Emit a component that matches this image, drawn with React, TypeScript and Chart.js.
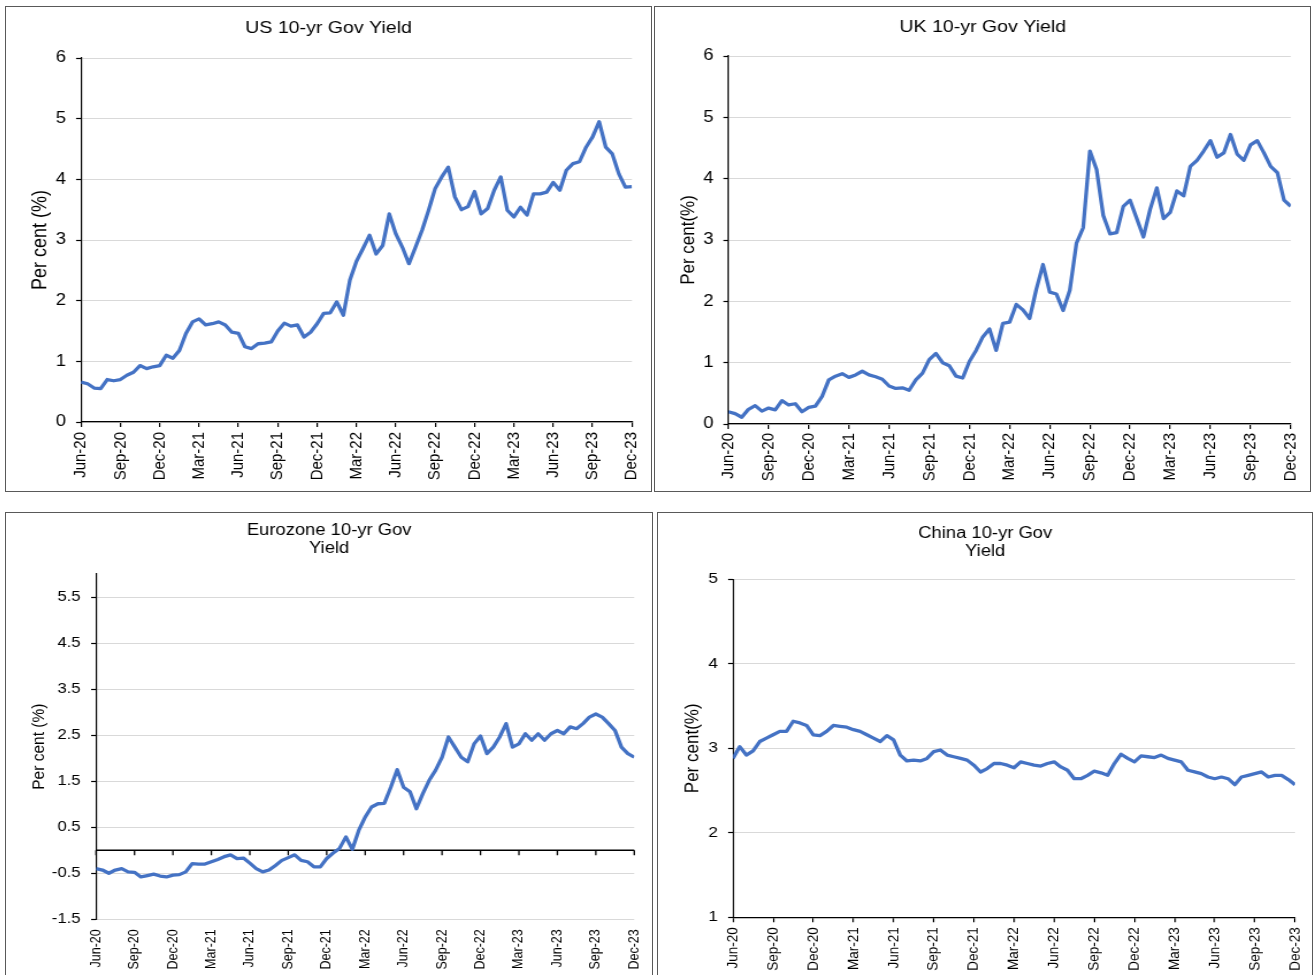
import React, { useEffect, useRef } from 'react';
import { Chart, registerables } from 'chart.js';

Chart.register(...registerables);

// ---------- data ----------
const X_TICK_LABELS = ['Jun-20', 'Sep-20', 'Dec-20', 'Mar-21', 'Jun-21', 'Sep-21', 'Dec-21', 'Mar-22', 'Jun-22', 'Sep-22', 'Dec-22', 'Mar-23', 'Jun-23', 'Sep-23', 'Dec-23'];
const X_TICK_MONTHS = [0, 3, 6, 9, 12, 15, 18, 21, 24, 27, 30, 33, 36, 39, 42];
const MONTHS_PER_POINT = 0.5; // one reading every half month, starting Jun-20

const US_YIELD = [
  0.66, 0.63, 0.56, 0.55, 0.70, 0.68, 0.70, 0.77, 0.82, 0.93, 0.88, 0.91,
  0.93, 1.10, 1.05, 1.18, 1.46, 1.65, 1.70, 1.60, 1.62, 1.65, 1.60, 1.48,
  1.46, 1.24, 1.21, 1.29, 1.30, 1.32, 1.50, 1.63, 1.58, 1.60, 1.40, 1.48,
  1.62, 1.79, 1.80, 1.98, 1.76, 2.34, 2.65, 2.86, 3.08, 2.77, 2.91, 3.43,
  3.10, 2.88, 2.61, 2.88, 3.16, 3.49, 3.85, 4.04, 4.20, 3.71, 3.50, 3.55,
  3.80, 3.43, 3.52, 3.82, 4.04, 3.49, 3.38, 3.54, 3.41, 3.76, 3.76, 3.79,
  3.95, 3.82, 4.15, 4.26, 4.29, 4.53, 4.70, 4.95, 4.53, 4.42, 4.09, 3.87,
  3.88,
];

const UK_YIELD = [
  0.20, 0.17, 0.11, 0.24, 0.30, 0.21, 0.26, 0.23, 0.38, 0.31, 0.33, 0.20,
  0.27, 0.29, 0.45, 0.72, 0.78, 0.82, 0.76, 0.80, 0.86, 0.80, 0.77, 0.73,
  0.62, 0.58, 0.59, 0.55, 0.72, 0.83, 1.05, 1.15, 1.00, 0.95, 0.78, 0.75,
  1.02, 1.20, 1.42, 1.55, 1.20, 1.64, 1.66, 1.95, 1.86, 1.72, 2.20, 2.60,
  2.15, 2.12, 1.85, 2.18, 2.95, 3.20, 4.45, 4.15, 3.40, 3.10, 3.12, 3.55,
  3.65, 3.35, 3.05, 3.50, 3.85, 3.35, 3.45, 3.80, 3.72, 4.20, 4.30, 4.45,
  4.62, 4.35, 4.42, 4.72, 4.40, 4.30, 4.55, 4.62, 4.42, 4.20, 4.10, 3.65,
  3.55,
];

const EZ_YIELD = [
  -0.40, -0.43, -0.50, -0.43, -0.40, -0.47, -0.48, -0.58, -0.55, -0.52, -0.56, -0.58,
  -0.54, -0.53, -0.47, -0.29, -0.30, -0.30, -0.25, -0.20, -0.14, -0.10, -0.18, -0.17,
  -0.28, -0.40, -0.47, -0.43, -0.33, -0.22, -0.16, -0.10, -0.22, -0.25, -0.36, -0.36,
  -0.18, -0.06, 0.04, 0.29, 0.02, 0.43, 0.72, 0.94, 1.01, 1.02, 1.37, 1.75,
  1.37, 1.27, 0.90, 1.23, 1.52, 1.74, 2.02, 2.46, 2.24, 2.02, 1.92, 2.31,
  2.48, 2.10, 2.24, 2.46, 2.75, 2.24, 2.31, 2.53, 2.39, 2.53, 2.39, 2.53,
  2.60, 2.53, 2.68, 2.64, 2.75, 2.89, 2.96, 2.89, 2.75, 2.60, 2.24, 2.10,
  2.02,
];

const CN_YIELD = [
  2.88, 3.02, 2.92, 2.97, 3.08, 3.12, 3.16, 3.20, 3.20, 3.32, 3.30, 3.27,
  3.16, 3.15, 3.20, 3.27, 3.26, 3.25, 3.22, 3.20, 3.16, 3.12, 3.08, 3.15,
  3.10, 2.92, 2.85, 2.86, 2.85, 2.88, 2.96, 2.98, 2.92, 2.90, 2.88, 2.86,
  2.80, 2.72, 2.76, 2.82, 2.82, 2.80, 2.77, 2.84, 2.82, 2.80, 2.79, 2.82,
  2.84, 2.78, 2.74, 2.64, 2.64, 2.68, 2.73, 2.71, 2.68, 2.82, 2.93, 2.88,
  2.84, 2.91, 2.90, 2.89, 2.92, 2.88, 2.86, 2.84, 2.74, 2.72, 2.70, 2.66,
  2.64, 2.66, 2.64, 2.57, 2.66, 2.68, 2.70, 2.72, 2.66, 2.68, 2.68, 2.63,
  2.57,
];

const US_Y_TICKS = [0, 1, 2, 3, 4, 5, 6];
const UK_Y_TICKS = [0, 1, 2, 3, 4, 5, 6];
const EZ_Y_TICKS = [-1.5, -0.5, 0.5, 1.5, 2.5, 3.5, 4.5, 5.5];
const CN_Y_TICKS = [1, 2, 3, 4, 5];

// ---------- styling / layout ----------
const FONT = "'Liberation Sans', Arial, Helvetica, sans-serif";
const LINE_COLOR = '#4472C4';
const STRETCH = 1.15;

const zeroLinePlugin = {
  id: 'zeroLine',
  beforeDatasetsDraw(chart: any) {
    const { ctx, chartArea, scales } = chart;
    const x = scales.x;
    const y = scales.y;
    const py = y.getPixelForValue(0);
    ctx.save();
    ctx.strokeStyle = '#000';
    ctx.lineWidth = 1.3;
    ctx.beginPath();
    ctx.moveTo(chartArea.left, py);
    ctx.lineTo(chartArea.right, py);
    for (const t of x.ticks) {
      const px = x.getPixelForValue(t.value);
      ctx.moveTo(px, py);
      ctx.lineTo(px, py + 5);
    }
    ctx.stroke();
    ctx.restore();
  },
};

const PANELS = [
  {
    key: 'us',
    box: { left: 5, top: 6, width: 647, height: 486, openBottom: false },
    canvasW: 561, canvasH: 484,
    values: US_YIELD,
    title: 'US 10-yr Gov Yield', titleSize: 17, titleLH: 1.2, titlePad: { top: 11.3, bottom: 19.3 },
    yTitle: 'Per cent (%)', yTitleSize: 18, yTitlePad: 19.6,
    yMin: 0, yMax: 6, yTicks: US_Y_TICKS, yTickSize: 16, yTickPad: 8.7,
    yWidth: 65.2, rightPad: 16.7, xHeight: 69,
    xTickSize: 15, xTickPad: 5, xTickMarks: true, xBorder: true, zeroLine: false,
  },
  {
    key: 'uk',
    box: { left: 654, top: 6, width: 657, height: 486, openBottom: false },
    canvasW: 570, canvasH: 484,
    values: UK_YIELD,
    title: 'UK 10-yr Gov Yield', titleSize: 17, titleLH: 1.2, titlePad: { top: 10.3, bottom: 18.3 },
    yTitle: 'Per cent(%)', yTitleSize: 17, yTitlePad: 19.4,
    yMin: 0, yMax: 6, yTicks: UK_Y_TICKS, yTickSize: 16, yTickPad: 8.6,
    yWidth: 63.8, rightPad: 17.2, xHeight: 67,
    xTickSize: 15, xTickPad: 4, xTickMarks: true, xBorder: true, zeroLine: false,
  },
  {
    key: 'ez',
    box: { left: 5, top: 512, width: 648, height: 463, openBottom: true },
    canvasW: 562, canvasH: 462,
    values: EZ_YIELD,
    title: ['Eurozone 10-yr Gov', 'Yield'], titleSize: 16, titleLH: 1.094, titlePad: { top: 9.25, bottom: 16.75 },
    yTitle: 'Per cent (%)', yTitleSize: 15.5, yTitlePad: 19,
    yMin: -1.5, yMax: 6, yTicks: EZ_Y_TICKS, yTickSize: 14.5, yTickPad: 9.2,
    yWidth: 78.3, rightPad: 15.7, xHeight: 55.7,
    xTickSize: 12.5, xTickPad: 10, xTickMarks: false, xBorder: false, zeroLine: true,
  },
  {
    key: 'cn',
    box: { left: 657, top: 512, width: 656, height: 463, openBottom: true },
    canvasW: 569, canvasH: 462,
    values: CN_YIELD,
    title: ['China 10-yr Gov', 'Yield'], titleSize: 16, titleLH: 1.156, titlePad: { top: 11.25, bottom: 18.05 },
    yTitle: 'Per cent(%)', yTitleSize: 17, yTitlePad: 20.2,
    yMin: 1, yMax: 5, yTicks: CN_Y_TICKS, yTickSize: 15, yTickPad: 8.9,
    yWidth: 65.2, rightPad: 15.1, xHeight: 57.7,
    xTickSize: 13.5, xTickPad: 5, xTickMarks: true, xBorder: true, zeroLine: false,
  },
];

function fmtTick(v: number) {
  return String(v);
}

function YieldPanel({ cfg }: { cfg: any }) {
  const ref = useRef<HTMLCanvasElement>(null);

  useEffect(() => {
    const canvas = ref.current;
    if (!canvas) return;
    const chart = new Chart(canvas, {
      type: 'line',
      data: {
        datasets: [
          {
            data: cfg.values.map((v: number, i: number) => ({ x: i * MONTHS_PER_POINT, y: v })),
            borderColor: LINE_COLOR,
            backgroundColor: LINE_COLOR,
            borderWidth: 3.3,
            pointRadius: 0,
            tension: 0,
            fill: false,
            borderJoinStyle: 'round',
          },
        ],
      },
      options: {
        animation: false,
        responsive: false,
        events: [],
        layout: { padding: 0 },
        plugins: {
          legend: { display: false },
          tooltip: { enabled: false },
          title: {
            display: true,
            text: cfg.title,
            color: '#000',
            font: { family: FONT, size: cfg.titleSize, weight: 'normal', lineHeight: cfg.titleLH },
            padding: cfg.titlePad,
          },
        },
        scales: {
          x: {
            type: 'linear',
            min: 0,
            max: 42,
            afterBuildTicks: (scale: any) => {
              scale.ticks = X_TICK_MONTHS.map((v) => ({ value: v }));
            },
            afterFit: (scale: any) => {
              scale.height = cfg.xHeight;
              scale.paddingLeft = 0;
              scale.paddingRight = cfg.rightPad;
            },
            ticks: {
              autoSkip: false,
              minRotation: 90,
              maxRotation: 90,
              padding: cfg.xTickPad,
              color: '#000',
              font: { family: FONT, size: cfg.xTickSize },
              callback: (v: any) => {
                const i = X_TICK_MONTHS.indexOf(Number(v));
                return i >= 0 ? X_TICK_LABELS[i] : '';
              },
            },
            grid: {
              display: cfg.xTickMarks,
              drawOnChartArea: false,
              drawTicks: cfg.xTickMarks,
              tickLength: 5,
              tickColor: '#000',
              color: '#000',
              lineWidth: 1.2,
            },
            border: { display: cfg.xBorder, color: '#000', width: 1.3 },
          },
          y: {
            type: 'linear',
            min: cfg.yMin,
            max: cfg.yMax,
            afterBuildTicks: (scale: any) => {
              scale.ticks = cfg.yTicks.map((v: number) => ({ value: v }));
            },
            afterFit: (scale: any) => {
              scale.width = cfg.yWidth;
              scale.paddingTop = 0;
              scale.paddingBottom = 0;
            },
            ticks: {
              autoSkip: false,
              padding: cfg.yTickPad,
              color: '#000',
              font: { family: FONT, size: cfg.yTickSize },
              callback: (v: any) => fmtTick(Number(v)),
            },
            grid: {
              color: '#d9d9d9',
              lineWidth: 1,
              drawTicks: true,
              tickLength: 4.3,
              tickColor: '#000',
              tickWidth: 1.2,
            },
            border: { display: true, color: '#000', width: 1.2 },
            title: {
              display: true,
              text: cfg.yTitle,
              color: '#000',
              font: { family: FONT, size: cfg.yTitleSize },
              padding: { top: cfg.yTitlePad, bottom: 0 },
            },
          },
        },
      } as any,
      plugins: cfg.zeroLine ? [zeroLinePlugin] : [],
    });
    return () => chart.destroy();
  }, [cfg]);

  const b = cfg.box;
  return (
    <div
      style={{
        position: 'absolute',
        left: b.left,
        top: b.top,
        width: b.width,
        height: b.height,
        boxSizing: 'border-box',
        border: '1px solid #595959',
        borderBottom: b.openBottom ? 'none' : '1px solid #595959',
        overflow: 'hidden',
        background: '#fff',
      }}
    >
      <div style={{ position: 'absolute', left: 0, top: 0, transform: `scaleX(${STRETCH})`, transformOrigin: '0 0' }}>
        <canvas ref={ref} width={cfg.canvasW} height={cfg.canvasH} />
      </div>
    </div>
  );
}

export default function App() {
  return (
    <div>
      {PANELS.map((p) => (
        <YieldPanel key={p.key} cfg={p} />
      ))}
    </div>
  );
}
